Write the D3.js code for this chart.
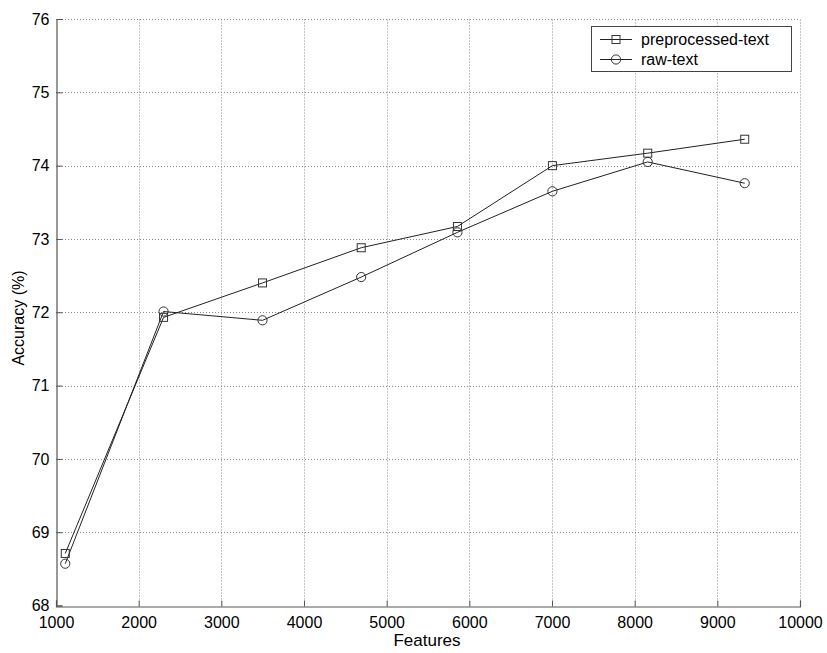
<!DOCTYPE html>
<html>
<head>
<meta charset="utf-8">
<script src="https://cdn.jsdelivr.net/npm/d3@7"></script>
<style>
  html, body { margin: 0; padding: 0; background: #fff; }
  svg { display: block; font-family: "Liberation Sans", Arial, sans-serif; }
</style>
</head>
<body>
<svg id="chart" width="827" height="653"></svg>
<script>
// Number of features used in each run
const features = [1112, 2301, 3498, 4692, 5856, 7005, 8158, 9331];
// Classification accuracy (%) per run
const preprocessedText = [68.71, 71.93, 72.40, 72.88, 73.17, 74.00, 74.17, 74.36];
const rawText = [68.57, 72.01, 71.89, 72.48, 73.09, 73.65, 74.05, 73.76];
const xTicks = [1000, 2000, 3000, 4000, 5000, 6000, 7000, 8000, 9000, 10000];
const yTicks = [68, 69, 70, 71, 72, 73, 74, 75, 76];
const seriesNames = ["preprocessed-text", "raw-text"];

const svg = d3.select("#chart");
const margin = { left: 56, right: 27, top: 19, bottom: 48 };
const W = 827, H = 653;
const x = d3.scaleLinear().domain([1000, 10000]).range([margin.left, W - margin.right]);
const y = d3.scaleLinear().domain([68, 76]).range([H - margin.bottom + 0.5, margin.top]);

const axisColor = "#555";
const gridColor = "#8a8a8a";

// dotted grid
const grid = svg.append("g");
grid.selectAll("line.vx").data(xTicks.slice(1)).join("line")
  .attr("x1", d => Math.round(x(d)) + 0.5).attr("x2", d => Math.round(x(d)) + 0.5)
  .attr("y1", y(68)).attr("y2", y(76))
  .attr("stroke", gridColor).attr("stroke-width", 1).attr("stroke-dasharray", "1,2");
grid.selectAll("line.hy").data(yTicks.slice(1)).join("line")
  .attr("y1", d => Math.round(y(d)) + 0.5).attr("y2", d => Math.round(y(d)) + 0.5)
  .attr("x1", x(1000)).attr("x2", x(10000))
  .attr("stroke", gridColor).attr("stroke-width", 1).attr("stroke-dasharray", "1,2");

// axes with inward ticks
const xAxis = d3.axisBottom(x).tickValues(xTicks).tickSize(-6).tickPadding(12).tickFormat(d3.format("d"));
const yAxis = d3.axisLeft(y).tickValues(yTicks).tickSize(-6).tickPadding(7).tickFormat(d3.format("d"));

const gx = svg.append("g").attr("transform", `translate(0,${Math.round(y(68)) + 0.5})`).call(xAxis);
const gy = svg.append("g").attr("transform", `translate(${Math.round(x(1000)) + 0.5},0)`).call(yAxis);
[gx, gy].forEach(g => {
  g.select(".domain").attr("stroke", axisColor).attr("stroke-width", 1.2);
  g.selectAll(".tick line").attr("stroke", axisColor);
  g.selectAll(".tick text").attr("fill", "#000").attr("font-size", 16)
    .attr("font-family", "Liberation Sans, Arial, sans-serif");
});
gx.selectAll(".tick text").attr("dy", "0.6em");

// axis titles
svg.append("text").attr("x", 427).attr("y", 646).attr("text-anchor", "middle")
  .attr("font-size", 17).text("Features");
svg.append("text").attr("transform", "translate(24,318) rotate(-90)")
  .attr("text-anchor", "middle").attr("font-size", 16).text("Accuracy (%)");

// series
const lineColor = "#222";
const markerColor = "#333";
const line = d3.line().x(d => x(d[0])).y(d => y(d[1]));
const pre = features.map((f, i) => [f, preprocessedText[i]]);
const raw = features.map((f, i) => [f, rawText[i]]);

svg.append("path").datum(pre).attr("d", line).attr("fill", "none")
  .attr("stroke", lineColor).attr("stroke-width", 1);
svg.append("path").datum(raw).attr("d", line).attr("fill", "none")
  .attr("stroke", lineColor).attr("stroke-width", 1);

const sq = 8;
svg.append("g").selectAll("rect").data(pre).join("rect")
  .attr("x", d => x(d[0]) - sq / 2).attr("y", d => y(d[1]) - sq / 2)
  .attr("width", sq).attr("height", sq)
  .attr("fill", "none").attr("stroke", markerColor).attr("stroke-width", 1);
svg.append("g").selectAll("circle").data(raw).join("circle")
  .attr("cx", d => x(d[0])).attr("cy", d => y(d[1])).attr("r", 4.6)
  .attr("fill", "none").attr("stroke", markerColor).attr("stroke-width", 1);

// legend
const lg = svg.append("g");
lg.append("rect").attr("x", 591.5).attr("y", 26.5).attr("width", 200).attr("height", 45)
  .attr("fill", "#fff").attr("stroke", "#444").attr("stroke-width", 1);
seriesNames.forEach((name, i) => {
  const cy = 39.5 + i * 20;
  lg.append("line").attr("x1", 600).attr("x2", 632).attr("y1", cy).attr("y2", cy)
    .attr("stroke", lineColor).attr("stroke-width", 1);
  if (i === 0) {
    lg.append("rect").attr("x", 616 - sq / 2).attr("y", cy - sq / 2).attr("width", sq).attr("height", sq)
      .attr("fill", "none").attr("stroke", markerColor);
  } else {
    lg.append("circle").attr("cx", 616).attr("cy", cy).attr("r", 4.6)
      .attr("fill", "none").attr("stroke", markerColor);
  }
  lg.append("text").attr("x", 641).attr("y", cy).attr("dy", "0.35em")
    .attr("font-size", 16).text(name);
});
</script>
</body>
</html>
